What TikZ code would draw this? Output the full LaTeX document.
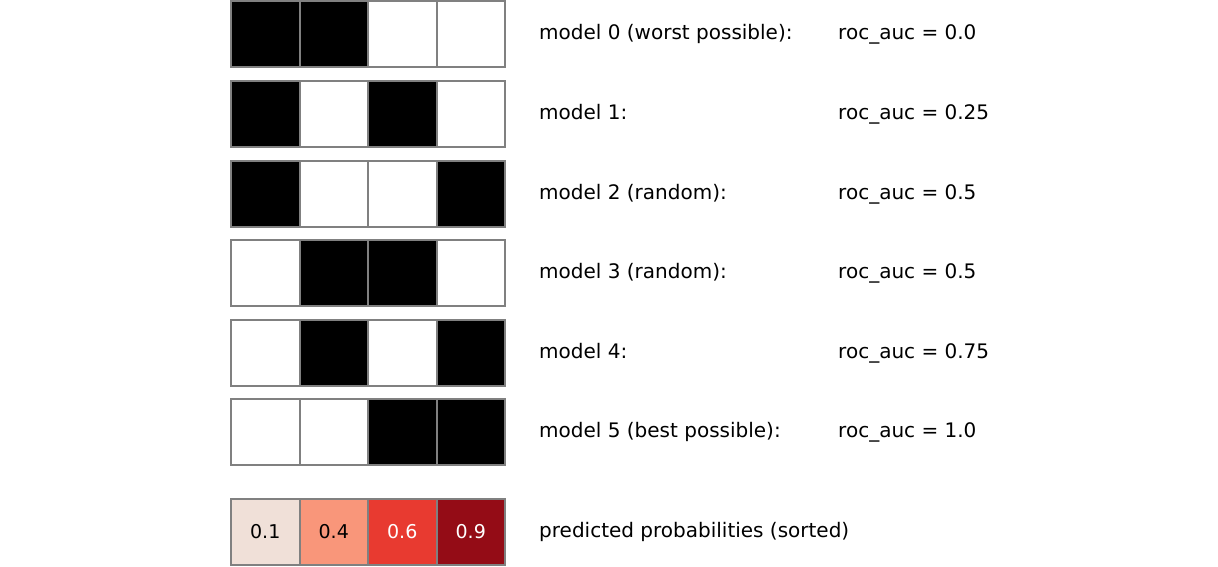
\documentclass[tikz,border=0pt]{standalone}
\usepackage{fontspec}
\setmainfont{DejaVu Sans}
\definecolor{edgegray}{RGB}{128,128,128}
\definecolor{pA}{RGB}{240,224,216}
\definecolor{pB}{RGB}{249,150,122}
\definecolor{pC}{RGB}{232,58,48}
\definecolor{pD}{RGB}{148,12,22}
\tikzset{
  cell/.style={draw=edgegray, line width=2pt, minimum width=68.5pt, minimum height=66pt, inner sep=0pt, outer sep=0pt, anchor=north west, font=\fontsize{19}{21}\selectfont},
  blk/.style={cell, fill=black},
  wht/.style={cell, fill=white},
  lbl/.style={anchor=base west, inner sep=0pt, font=\fontsize{20}{22}\selectfont}
}
\begin{document}
\begin{tikzpicture}[x=1pt,y=-1pt]
\useasboundingbox (0,0) rectangle (1218,566);
% rows
\foreach \r/\y/\a/\b/\c/\d/\lab/\roc in {
  0/1/blk/blk/wht/wht/{model 0 (worst possible):}/{roc\_auc = 0.0},
  1/81/blk/wht/blk/wht/{model 1:}/{roc\_auc = 0.25},
  2/160.5/blk/wht/wht/blk/{model 2 (random):}/{roc\_auc = 0.5},
  3/240/wht/blk/blk/wht/{model 3 (random):}/{roc\_auc = 0.5},
  4/319.5/wht/blk/wht/blk/{model 4:}/{roc\_auc = 0.75},
  5/399/wht/wht/blk/blk/{model 5 (best possible):}/{roc\_auc = 1.0}}{
  \node[\a] (m\r c0) at (231,\y) {};
  \node[\b] (m\r c1) at (299.5,\y) {};
  \node[\c] (m\r c2) at (368,\y) {};
  \node[\d] (m\r c3) at (436.5,\y) {};
  \node[lbl] (m\r lab) at (539,\y+38.5) {\lab};
  \node[lbl] (m\r roc) at (838,\y+38.5) {\roc};
}
\node[cell, fill=pA] (p0) at (231,499) {0.1};
\node[cell, fill=pB] (p1) at (299.5,499) {0.4};
\node[cell, fill=pC, text=white] (p2) at (368,499) {0.6};
\node[cell, fill=pD, text=white] (p3) at (436.5,499) {0.9};
\node[lbl] (plab) at (539,537.5) {predicted probabilities (sorted)};
\end{tikzpicture}
\end{document}
